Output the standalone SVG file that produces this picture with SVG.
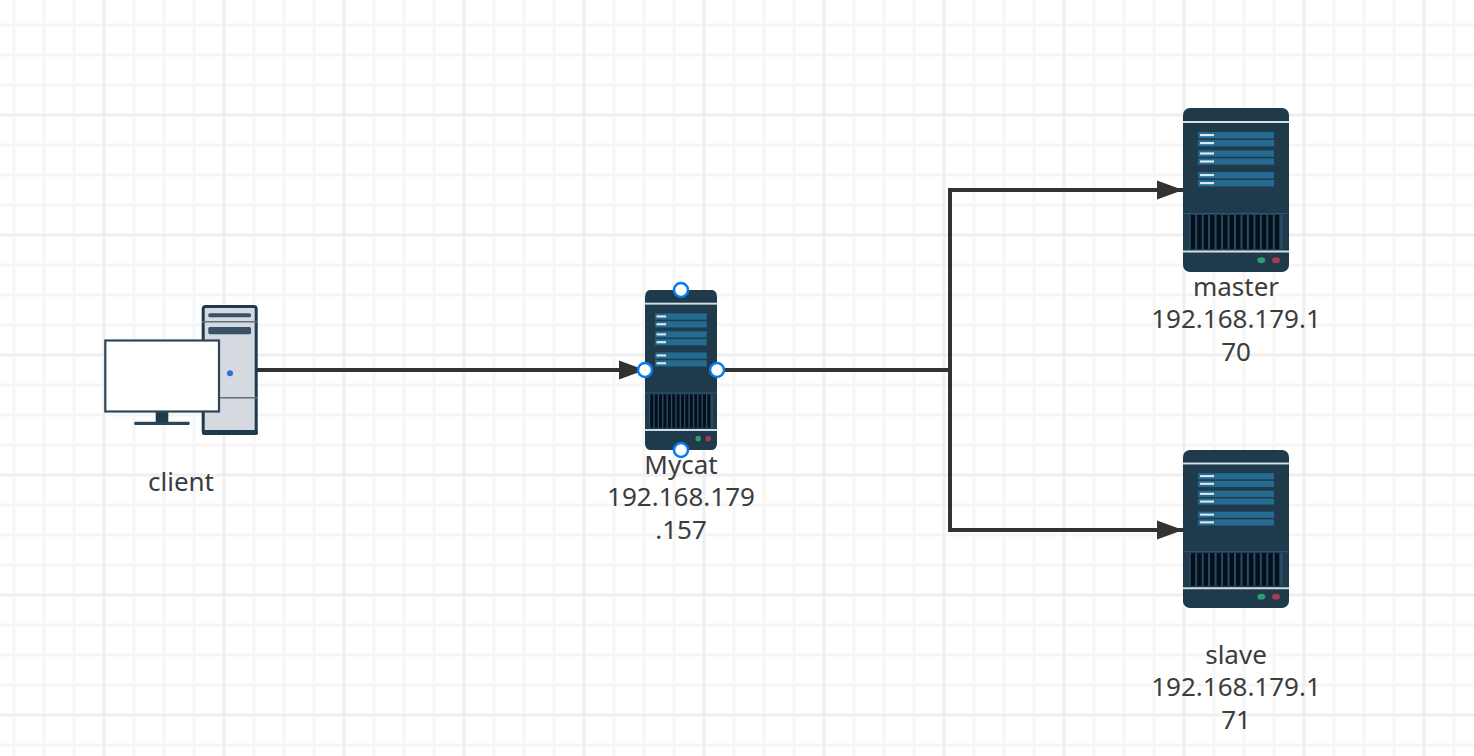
<svg xmlns="http://www.w3.org/2000/svg" xmlns:xlink="http://www.w3.org/1999/xlink" width="1474" height="756" viewBox="0 0 1474 756">
<style>
.minor{stroke:#f6f6f6;stroke-width:3;fill:none}
.major{stroke:#efefef;stroke-width:3;fill:none}
.conn{stroke:#323232;stroke-width:4;fill:none}
.label{font-family:"Noto Sans","Open Sans",sans-serif;font-size:26px;fill:#3c3c3c;text-anchor:middle}
.bar{fill:#246a91}
.dash{fill:#dbe8f0}
.vent{fill:#040f1c}
.light{fill:#d3e0e8}
.handle{fill:#fff;stroke:#067bef;stroke-width:2.5}
</style>
<defs>
<marker id="arrow" markerUnits="userSpaceOnUse" markerWidth="28" markerHeight="20" refX="26" refY="10" orient="auto">
<path d="M0,0.5 L26,10 L0,19.5 Z" fill="#323232"/>
</marker>
<symbol id="server" viewBox="0 0 106 164" preserveAspectRatio="none">
<rect x="0" y="0" width="106" height="164" rx="7" fill="#1f3b4b"/>
<rect class="light" x="0" y="13" width="106" height="2"/>
<g class="bar">
<rect x="15" y="24" width="76" height="6.4"/><rect x="15" y="32" width="76" height="6.4"/>
<rect x="15" y="42.3" width="76" height="6.4"/><rect x="15" y="50.3" width="76" height="6.4"/>
<rect x="15" y="64" width="76" height="6.4"/><rect x="15" y="72" width="76" height="6.4"/>
</g>
<g class="dash">
<rect x="17" y="26" width="14" height="2.2"/><rect x="17" y="34" width="14" height="2.2"/>
<rect x="17" y="44.4" width="14" height="2.2"/><rect x="17" y="52.4" width="14" height="2.2"/>
<rect x="17" y="66" width="14" height="2.2"/><rect x="17" y="74" width="14" height="2.2"/>
</g>
<rect x="0" y="105" width="106" height="1" fill="#2a5a78"/>
<rect x="6" y="107" width="94" height="34" fill="#2a4c62"/>
<g class="vent">
<rect x="7.7" y="107" width="4.5" height="34"/><rect x="14.2" y="107" width="4.5" height="34"/>
<rect x="20.6" y="107" width="4.5" height="34"/><rect x="27.1" y="107" width="4.5" height="34"/>
<rect x="33.6" y="107" width="4.5" height="34"/><rect x="40" y="107" width="4.5" height="34"/>
<rect x="46.5" y="107" width="4.5" height="34"/><rect x="53" y="107" width="4.5" height="34"/>
<rect x="59.4" y="107" width="4.5" height="34"/><rect x="65.9" y="107" width="4.5" height="34"/>
<rect x="72.4" y="107" width="4.5" height="34"/><rect x="78.8" y="107" width="4.5" height="34"/>
<rect x="85.3" y="107" width="4.5" height="34"/><rect x="91.8" y="107" width="4.5" height="34"/>
</g>
<rect class="light" x="0" y="142.5" width="106" height="2"/>
<ellipse cx="78.3" cy="152.3" rx="4" ry="3" fill="#2e9e6e"/>
<ellipse cx="93" cy="152.3" rx="4" ry="3" fill="#a83a54"/>
</symbol>
</defs>
<rect width="1474" height="756" fill="#fff"/>
<g id="grid">
<path class="minor" d="M14,0V756M44,0V756M74,0V756M134,0V756M164,0V756M194,0V756M254,0V756M284,0V756M314,0V756M374,0V756M404,0V756M434,0V756M494,0V756M524,0V756M554,0V756M614,0V756M644,0V756M674,0V756M734,0V756M764,0V756M794,0V756M854,0V756M884,0V756M914,0V756M974,0V756M1004,0V756M1034,0V756M1094,0V756M1124,0V756M1154,0V756M1214,0V756M1244,0V756M1274,0V756M1334,0V756M1364,0V756M1394,0V756M1454,0V756"/>
<path class="minor" d="M0,25H1474M0,55H1474M0,85H1474M0,145H1474M0,175H1474M0,205H1474M0,265H1474M0,295H1474M0,325H1474M0,385H1474M0,415H1474M0,445H1474M0,505H1474M0,535H1474M0,565H1474M0,625H1474M0,655H1474M0,685H1474M0,745H1474"/>
<path class="major" d="M104,0V756M224,0V756M344,0V756M464,0V756M584,0V756M704,0V756M824,0V756M944,0V756M1064,0V756M1184,0V756M1304,0V756M1424,0V756"/>
<path class="major" d="M0,115H1474M0,235H1474M0,355H1474M0,475H1474M0,595H1474M0,715H1474"/>
</g>
<g id="connectors">
<path class="conn" d="M257,370H645" marker-end="url(#arrow)"/>
<path class="conn" d="M717,370H950"/>
<path class="conn" d="M950,370V190H1183" marker-end="url(#arrow)"/>
<path class="conn" d="M950,370V530H1183" marker-end="url(#arrow)"/>
</g>
<g id="client">
<rect x="203.2" y="306.5" width="53" height="127" rx="2.5" fill="#d5dae0" stroke="#1e3a4c" stroke-width="3"/>
<rect x="202" y="430" width="56" height="5" rx="2" fill="#1e3a4c"/>
<path d="M202,321.7H257M202,397.7H257" stroke="#5f707c" stroke-width="1.5" fill="none"/>
<rect x="208.3" y="313.3" width="42.7" height="4" rx="1.5" fill="#3a5166"/>
<rect x="208.3" y="327" width="42.7" height="7.3" rx="1.5" fill="#3a5166"/>
<circle cx="230" cy="373.3" r="3" fill="#2a6fdb"/>
<rect x="155.7" y="412" width="12.6" height="10" fill="#1e3a4c"/>
<rect x="134.3" y="421.7" width="55.4" height="3.3" rx="1" fill="#2c4559"/>
<rect x="105.3" y="340.5" width="113.7" height="71" fill="#fff" stroke="#2f4658" stroke-width="2.2"/>
<text class="label" x="181" y="491">client</text>
</g>
<g id="mycat">
<use xlink:href="#server" href="#server" x="645" y="290" width="72" height="160"/>
<text class="label" x="681" y="474">Mycat</text>
<text class="label" x="681" y="506">192.168.179</text>
<text class="label" x="681" y="539">.157</text>
<circle class="handle" cx="681" cy="290" r="7"/>
<circle class="handle" cx="645" cy="370" r="7"/>
<circle class="handle" cx="717" cy="370" r="7"/>
<circle class="handle" cx="681" cy="450" r="7"/>
</g>
<g id="master">
<use xlink:href="#server" href="#server" x="1183" y="108" width="106" height="164"/>
<text class="label" x="1236" y="296">master</text>
<text class="label" x="1236" y="328">192.168.179.1</text>
<text class="label" x="1236" y="361">70</text>
</g>
<g id="slave">
<use xlink:href="#server" href="#server" x="1183" y="450" width="106" height="158"/>
<text class="label" x="1236" y="664">slave</text>
<text class="label" x="1236" y="696">192.168.179.1</text>
<text class="label" x="1236" y="729">71</text>
</g>
</svg>
